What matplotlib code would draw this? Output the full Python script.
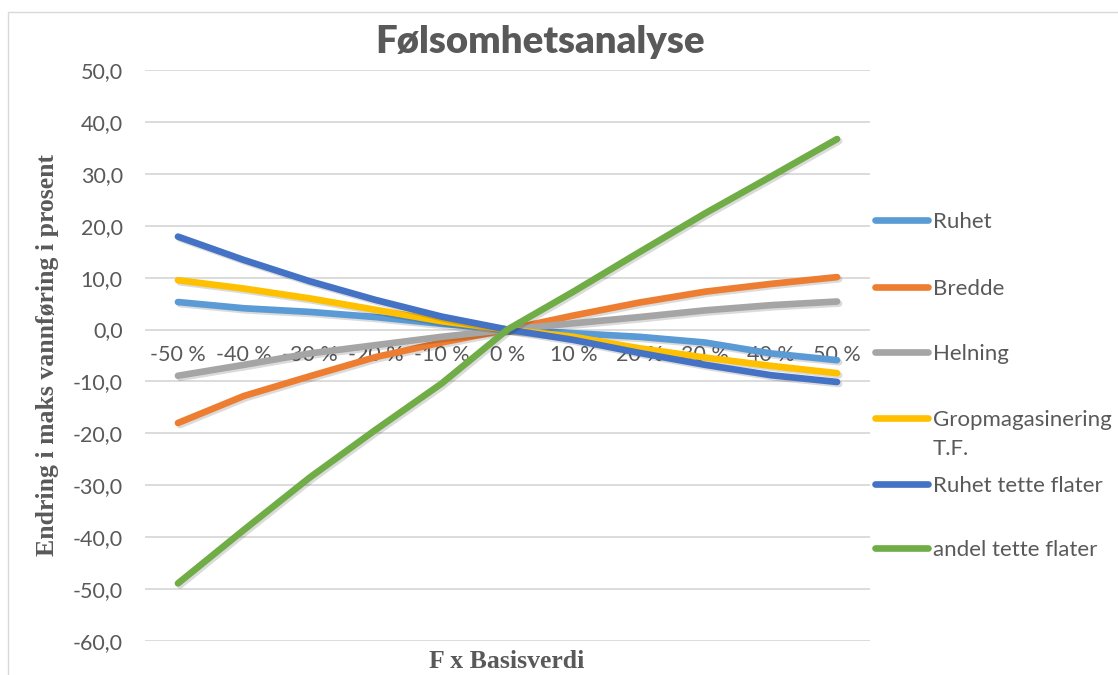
import matplotlib
matplotlib.use("Agg")
import matplotlib.pyplot as plt
import matplotlib.patheffects as pe
from matplotlib.lines import Line2D
from matplotlib.patches import Rectangle
from matplotlib.ticker import FuncFormatter, MultipleLocator

# Sensitivity factors (x axis categories)
factors = ["-50 %", "-40 %", "-30 %", "-20 %", "-10 %", "0 %",
           "10 %", "20 %", "30 %", "40 %", "50 %"]

# Change in peak discharge, percent
ruhet = [5.3, 4.1, 3.4, 2.4, 1.1, 0.0, -0.7, -1.4, -2.5, -4.6, -5.9]
bredde = [-18.0, -12.8, -9.0, -5.3, -2.5, 0.0, 2.7, 5.2, 7.3, 8.8, 10.1]
helning = [-8.9, -6.8, -4.6, -3.0, -1.4, 0.0, 1.2, 2.4, 3.7, 4.7, 5.4]
gropmagasinering = [9.5, 7.9, 6.0, 3.8, 1.6, 0.0, -1.4, -3.6, -5.4, -7.0, -8.4]
ruhet_tette = [17.9, 13.4, 9.3, 5.7, 2.5, 0.0, -2.0, -4.5, -6.8, -8.8, -10.1]
andel_tette = [-48.9, -38.6, -28.5, -19.3, -10.4, 0.0, 7.3, 14.9, 22.4, 29.5, 36.7]

series_names = ["Ruhet", "Bredde", "Helning", "Gropmagasinering\nT.F.",
                "Ruhet tette flater", "andel tette flater"]
series_values = [ruhet, bredde, helning, gropmagasinering, ruhet_tette, andel_tette]
series_colors = ["#5B9BD5", "#ED7D31", "#A5A5A5", "#FFC000", "#4472C4", "#70AD47"]

TEXT = "#595959"
GRID = "#D9D9D9"
W, H = 1118, 675
LW = 4.8

fig = plt.figure(figsize=(W / 100, H / 100), dpi=100)
fig.patch.set_facecolor("white")

# chart frame
fig.add_artist(Rectangle((7.5 / W, -0.2), 1.5, (H - 12.5) / H + 0.2,
                         transform=fig.transFigure, fill=False,
                         ec=GRID, lw=1.0))

ax = fig.add_axes([145 / W, 1 - 641 / H, 725 / W, 571 / H])
ax.set_xlim(-0.5, len(factors) - 0.5)
ax.set_ylim(-60, 50)
ax.yaxis.set_major_locator(MultipleLocator(10))
ax.yaxis.set_major_formatter(FuncFormatter(lambda v, _: f"{v:.1f}".replace(".", ",")))
ax.grid(axis="y", color=GRID, lw=1.3)
ax.set_axisbelow(True)
for s in ax.spines.values():
    s.set_visible(False)
ax.spines["bottom"].set_position(("data", 0))

ax.set_xticks(range(len(factors)))
ax.set_xticklabels(factors)
ax.tick_params(axis="x", length=0, pad=11, labelsize=15.5, labelcolor=TEXT)
ax.tick_params(axis="y", length=0, pad=16, labelsize=15.5, labelcolor=TEXT)
for lab in ax.get_xticklabels() + ax.get_yticklabels():
    lab.set_fontfamily("Lato")

shadow = [pe.SimpleLineShadow(offset=(1.5, -1.5), shadow_color="black", alpha=0.14),
          pe.Normal()]
x = list(range(len(factors)))
for vals, col in zip(series_values, series_colors):
    ax.plot(x, vals, color=col, lw=LW, solid_capstyle="round",
            solid_joinstyle="round", path_effects=shadow, zorder=3)

# title and axis titles
fig.text(540 / W, 1 - 42 / H, "Følsomhetsanalyse", ha="center", va="center",
         fontsize=27.5, fontweight="heavy", family="Lato", color=TEXT)
fig.text(48 / W, 1 - 355 / H, "Endring i maks vannføring i prosent",
         rotation=90, ha="center", va="center", fontsize=18.5,
         fontweight="bold", family="Liberation Serif", color=TEXT)
fig.text(507 / W, 1 - 661 / H, "F x Basisverdi", ha="center", va="center",
         fontsize=18.5, fontweight="bold", family="Liberation Serif", color=TEXT)

# legend on the right
legend_y = [220, 287, 352, 418, 484, 548]
for name, col, yy in zip(series_names, series_colors, legend_y):
    yf = 1 - yy / H
    fig.add_artist(Line2D([875 / W, 928 / W], [yf, yf], transform=fig.transFigure,
                          color=col, lw=LW, solid_capstyle="round"))
    lines = name.split("\n")
    for i, part in enumerate(lines):
        fig.text(933 / W, 1 - (yy + 29 * i) / H, part, ha="left",
                 va="center_baseline", fontsize=16, family="Lato", color=TEXT)

fig.savefig("out.png", dpi=100)
